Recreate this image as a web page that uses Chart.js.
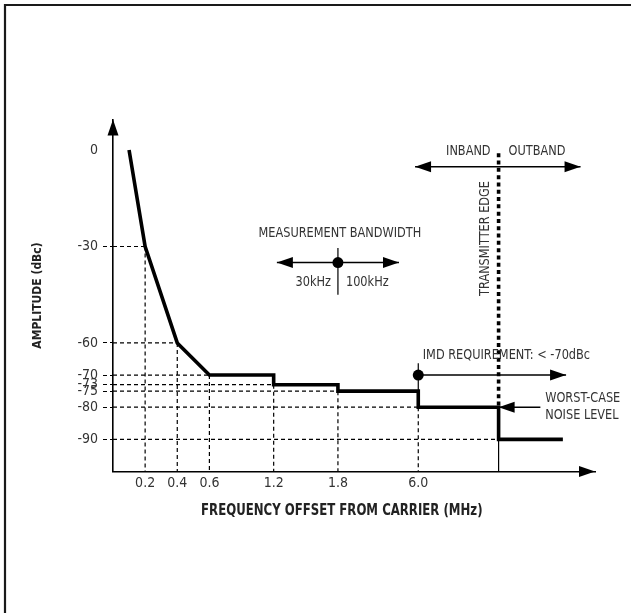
<!DOCTYPE html>
<html lang="en">
<head>
<meta charset="UTF-8">
<title>Amplitude vs Frequency Offset From Carrier</title>
<script src="https://cdn.jsdelivr.net/npm/chart.js"></script>
<style>
  html, body { margin: 0; padding: 0; background: #fff; }
  #wrap { width: 631px; height: 613px; }
</style>
</head>
<body>
<div id="wrap"><canvas id="chart" width="631" height="613"></canvas></div>
<script>
const FONT = "'Liberation Sans Narrow', 'DejaVu Sans Condensed', 'Arial Narrow', sans-serif";

// schematic x axis: tick slots are evenly spaced, not to scale
const xTickPos = [1, 2, 3, 5, 7, 9.5];
const xTickLabels = ['0.2', '0.4', '0.6', '1.2', '1.8', '6.0'];
const yTicks = [0, -30, -60, -70, -73, -75, -80, -90];

// noise level curve
const curveX = [0.5, 1, 2, 3, 5, 5, 7, 7, 9.5, 9.5, 12, 12, 14];
const curveY = [0, -30, -60, -70, -70, -73, -73, -75, -75, -80, -80, -90, -90];

// corners with dashed guides back to the axes
const guideX = [1, 2, 3, 5, 7, 9.5, 12];
const guideY = [-30, -60, -70, -73, -75, -80, -90];

const edgeX = 12;          // transmitter edge slot
const edgeTop = -1;
const imdLevel = -70;
const imdX = [9.5, 14.1];
const bandX = [9.4, 14.55];
const bandY = -5.2;
const mbwX = [5.1, 8.9];
const mbwCenter = 7;
const mbwY = -35;
const mbwTick = [-30.5, -45];
const worstX = [13.3, 12];
const worstY = -80;

const Y_MIN = -100, Y_MAX = 9.5, X_MIN = 0, X_MAX = 15;

// horizontal + vertical dashed guides, broken with nulls
const guideData = [];
guideX.forEach((x, i) => {
  guideData.push({x: X_MIN, y: guideY[i]}, {x: x, y: guideY[i]}, {x: x, y: null});
  if (x !== edgeX) guideData.push({x: x, y: guideY[i]}, {x: x, y: Y_MIN}, {x: x, y: null});
});

function line(data, extra) {
  return Object.assign({
    data: data, showLine: true, borderColor: '#000', borderWidth: 1.4,
    pointRadius: 0, fill: false, tension: 0, spanGaps: false, clip: false
  }, extra || {});
}

const datasets = [
  line(curveX.map((x, i) => ({x: x, y: curveY[i]})), {borderWidth: 3.6, borderJoinStyle: 'miter'}),
  line([{x: edgeX, y: edgeTop}, {x: edgeX, y: worstY}], {borderWidth: 3.6, borderDash: [4, 3.3]}),
  line([{x: edgeX, y: -90}, {x: edgeX, y: Y_MIN}], {borderWidth: 1.2}),
  line(guideData, {borderWidth: 1.2, borderDash: [4, 3]}),
  line([{x: imdX[0], y: imdLevel}, {x: imdX[1], y: imdLevel}],
       {arrows: ['end'], pointRadius: [5.5, 0], pointBackgroundColor: '#000', pointBorderWidth: 0}),
  line([{x: imdX[0], y: -66.3}, {x: imdX[0], y: -75}], {borderWidth: 1.2}),
  line([{x: bandX[0], y: bandY}, {x: bandX[1], y: bandY}], {arrows: ['start', 'end']}),
  line([{x: mbwX[0], y: mbwY}, {x: mbwCenter, y: mbwY}, {x: mbwX[1], y: mbwY}],
       {arrows: ['start', 'end'], pointRadius: [0, 5.5, 0], pointBackgroundColor: '#000', pointBorderWidth: 0}),
  line([{x: mbwCenter, y: mbwTick[0]}, {x: mbwCenter, y: mbwTick[1]}], {borderWidth: 1.2}),
  line([{x: worstX[0], y: worstY}, {x: worstX[1], y: worstY}], {arrows: ['end']})
];

// text notes, positioned in data units (+ pixel nudges)
const notes = [
  {text: 'MEASUREMENT BANDWIDTH', x: 7.06, y: -25.8, align: 'center'},
  {text: '30kHz', x: mbwCenter, y: -41.1, align: 'right', dx: -7},
  {text: '100kHz', x: mbwCenter, y: -41.1, align: 'left', dx: 8},
  {text: 'INBAND', x: edgeX, y: -0.5, align: 'right', dx: -8},
  {text: 'OUTBAND', x: edgeX, y: -0.5, align: 'left', dx: 10},
  {text: 'TRANSMITTER EDGE', x: edgeX, y: -27.5, align: 'center', dx: -13.5, rotate: true},
  {text: 'IMD REQUIREMENT: < -70dBc', x: 9.64, y: -64, align: 'left'},
  {text: 'WORST-CASE', x: 13.45, y: -77.4, align: 'left'},
  {text: 'NOISE LEVEL', x: 13.45, y: -82.6, align: 'left'}
];

function head(ctx, x0, y0, x1, y1) {
  const ang = Math.atan2(y1 - y0, x1 - x0);
  ctx.save();
  ctx.translate(x1, y1);
  ctx.rotate(ang);
  ctx.beginPath();
  ctx.moveTo(0, 0);
  ctx.lineTo(-16, -5.5);
  ctx.lineTo(-16, 5.5);
  ctx.closePath();
  ctx.fillStyle = '#000';
  ctx.fill();
  ctx.restore();
}

const decor = {
  id: 'decor',
  beforeDraw(chart) {
    const ctx = chart.ctx;
    ctx.save();
    ctx.fillStyle = '#fff';
    ctx.fillRect(0, 0, chart.width, chart.height);
    ctx.strokeStyle = '#1a1a1a';
    ctx.lineWidth = 2.2;
    ctx.beginPath();
    ctx.moveTo(5, chart.height);
    ctx.lineTo(5, 5);
    ctx.lineTo(chart.width, 5);
    ctx.stroke();
    ctx.restore();
  },
  afterDatasetsDraw(chart) {
    const ctx = chart.ctx;
    const xs = chart.scales.x, ys = chart.scales.y;
    chart.data.datasets.forEach((ds, i) => {
      if (!ds.arrows) return;
      const pts = chart.getDatasetMeta(i).data;
      ds.arrows.forEach(end => {
        if (end === 'end') head(ctx, pts[pts.length - 2].x, pts[pts.length - 2].y, pts[pts.length - 1].x, pts[pts.length - 1].y);
        else head(ctx, pts[1].x, pts[1].y, pts[0].x, pts[0].y);
      });
    });
    const a = chart.chartArea;
    head(ctx, a.left, a.bottom, a.left, a.top);
    head(ctx, a.left, a.bottom, a.right, a.bottom);

    ctx.save();
    ctx.fillStyle = '#333';
    ctx.font = '14px ' + FONT;
    ctx.textBaseline = 'middle';
    notes.forEach(n => {
      const px = xs.getPixelForValue(n.x) + (n.dx || 0);
      const py = ys.getPixelForValue(n.y);
      ctx.save();
      ctx.translate(px, py);
      if (n.rotate) ctx.rotate(-Math.PI / 2);
      ctx.scale(0.9, 1);
      ctx.textAlign = n.align;
      ctx.fillText(n.text, 0, 0);
      ctx.restore();
    });
    ctx.fillStyle = '#222';
    ctx.font = 'bold 15px ' + FONT;
    ctx.textAlign = 'center';
    ctx.translate(xs.getPixelForValue(7.12), a.bottom + 40);
    ctx.scale(0.87, 1);
    ctx.fillText('FREQUENCY OFFSET FROM CARRIER (MHz)', 0, 0);
    ctx.restore();
  }
};

new Chart(document.getElementById('chart'), {
  type: 'scatter',
  data: { datasets: datasets },
  options: {
    responsive: false,
    animation: false,
    events: [],
    layout: { padding: { top: 119.5, right: 36, bottom: 0, left: 0 } },
    plugins: { legend: { display: false }, tooltip: { enabled: false } },
    scales: {
      x: {
        type: 'linear', min: X_MIN, max: X_MAX,
        afterFit: s => { s.height = 141.5; },
        afterBuildTicks: s => { s.ticks = xTickPos.map(v => ({value: v})); },
        grid: { display: false, drawTicks: false },
        border: { display: true, color: '#000', width: 1.6 },
        ticks: {
          autoSkip: false, maxRotation: 0, padding: 3, color: '#333',
          font: { family: FONT, size: 14 },
          callback: v => xTickLabels[xTickPos.indexOf(v)]
        }
      },
      y: {
        type: 'linear', min: Y_MIN, max: Y_MAX,
        afterFit: s => { s.width = 113; },
        afterBuildTicks: s => { s.ticks = yTicks.map(v => ({value: v})); },
        grid: {
          display: true, drawOnChartArea: false, drawTicks: true, tickLength: 10,
          tickBorderDash: [4, 3], tickWidth: 1.2,
          tickColor: c => (c.tick && c.tick.value === 0) ? 'rgba(0,0,0,0)' : '#000'
        },
        border: { display: true, color: '#000', width: 1.6 },
        ticks: {
          autoSkip: false, padding: 5, color: '#333',
          font: { family: FONT, size: 14 },
          callback: v => String(v)
        },
        title: {
          display: true, text: 'AMPLITUDE (dBc)', color: '#222',
          font: { family: FONT, size: 12, weight: 'bold' },
          padding: { top: 31, bottom: 0 }
        }
      }
    }
  },
  plugins: [decor]
});
</script>
</body>
</html>
